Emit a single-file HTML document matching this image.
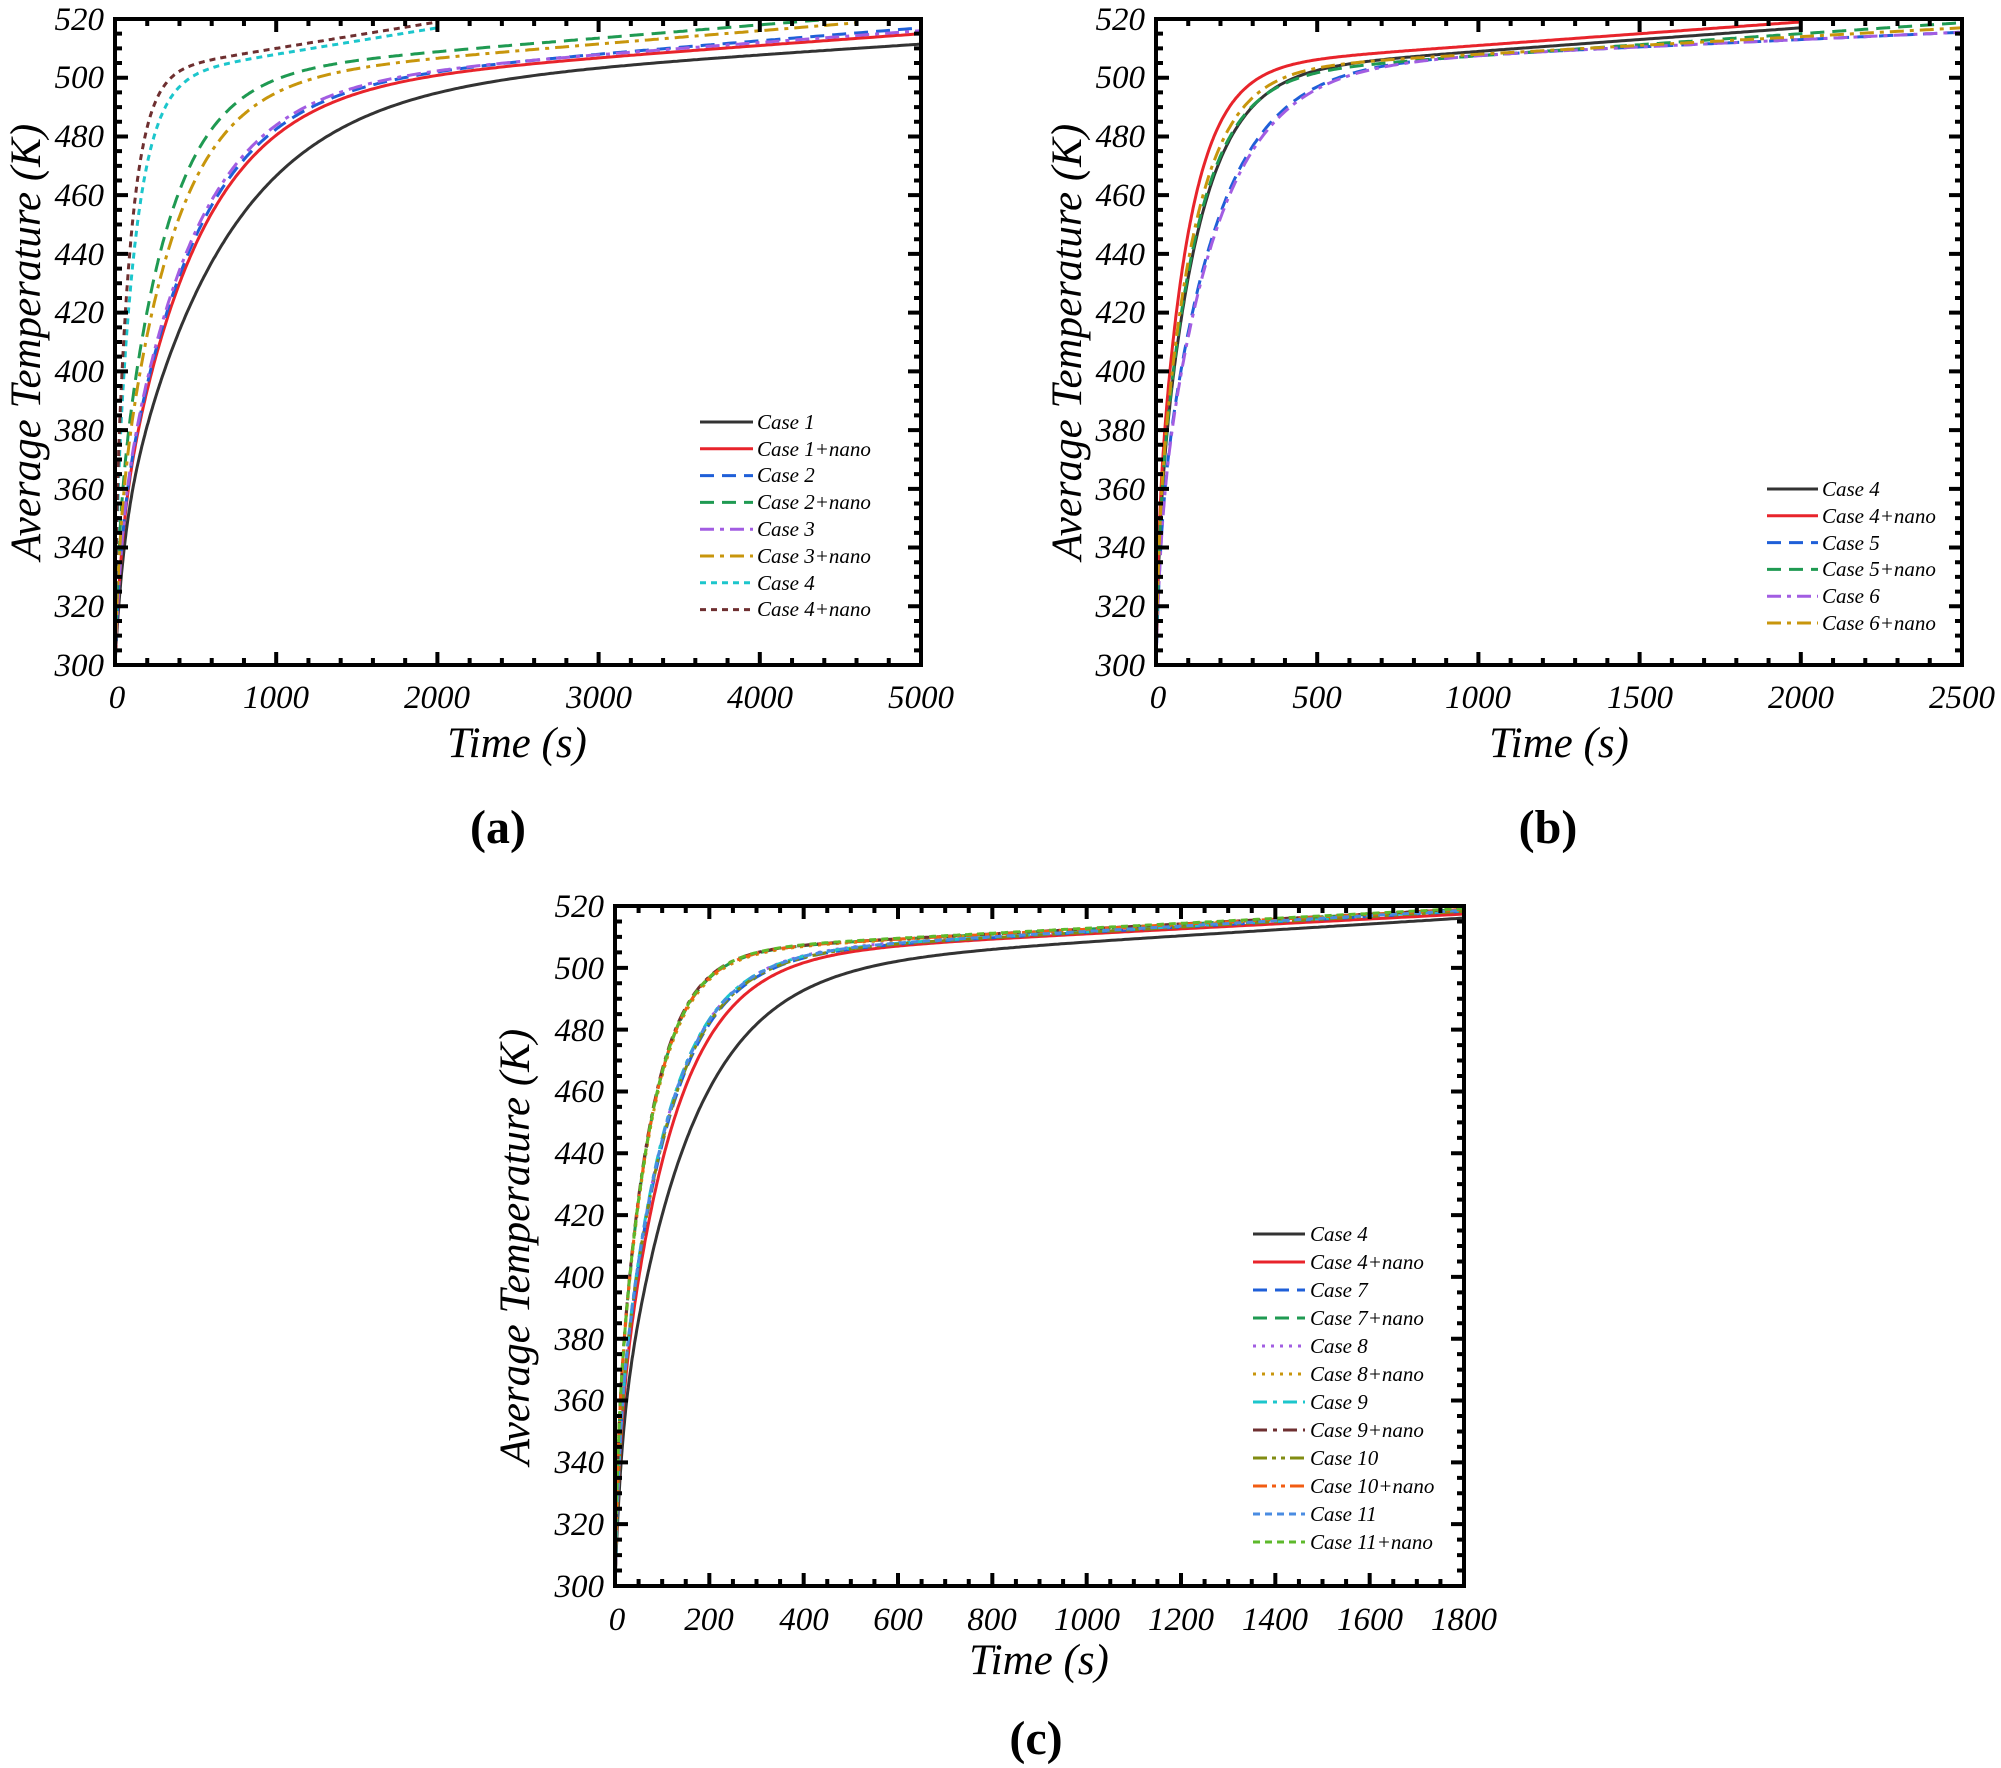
<!DOCTYPE html>
<html><head><meta charset="utf-8">
<style>
html,body{margin:0;padding:0;background:#fff;}
svg{display:block;}
text{font-family:"Liberation Serif",serif;font-style:italic;fill:#000;}
.tk text{font-size:33px;}
.ax text{font-size:43px;}
.lg text{font-size:21px;}
.pl text{font-size:48px;font-style:normal;font-weight:bold;}
</style></head>
<body>
<svg id="s" width="2001" height="1768" viewBox="0 0 2001 1768" xmlns="http://www.w3.org/2000/svg">
<defs>
<clipPath id="ca"><rect x="115" y="19" width="806" height="646"/></clipPath>
<clipPath id="cb"><rect x="1156" y="19" width="806" height="646"/></clipPath>
<clipPath id="cc"><rect x="615" y="906" width="849" height="680"/></clipPath>
</defs>
<g id="curves"></g>
<g id="axes"></g>
<g class="tk" text-anchor="end">
<text x="104" y="676">300</text><text x="104" y="617">320</text><text x="104" y="558">340</text><text x="104" y="500">360</text><text x="104" y="441">380</text><text x="104" y="382">400</text><text x="104" y="323">420</text><text x="104" y="265">440</text><text x="104" y="206">460</text><text x="104" y="147">480</text><text x="104" y="88">500</text><text x="104" y="30">520</text>
<text x="1145" y="676">300</text><text x="1145" y="617">320</text><text x="1145" y="558">340</text><text x="1145" y="500">360</text><text x="1145" y="441">380</text><text x="1145" y="382">400</text><text x="1145" y="323">420</text><text x="1145" y="265">440</text><text x="1145" y="206">460</text><text x="1145" y="147">480</text><text x="1145" y="88">500</text><text x="1145" y="30">520</text>
<text x="604" y="1597">300</text><text x="604" y="1535">320</text><text x="604" y="1473">340</text><text x="604" y="1411">360</text><text x="604" y="1350">380</text><text x="604" y="1288">400</text><text x="604" y="1226">420</text><text x="604" y="1164">440</text><text x="604" y="1102">460</text><text x="604" y="1041">480</text><text x="604" y="979">500</text><text x="604" y="917">520</text>
</g>
<g class="tk" text-anchor="middle">
<text x="117" y="708">0</text><text x="276" y="708">1000</text><text x="437" y="708">2000</text><text x="599" y="708">3000</text><text x="760" y="708">4000</text><text x="921" y="708">5000</text>
<text x="1158" y="708">0</text><text x="1317" y="708">500</text><text x="1478" y="708">1000</text><text x="1640" y="708">1500</text><text x="1801" y="708">2000</text><text x="1962" y="708">2500</text>
<text x="617" y="1630">0</text><text x="709" y="1630">200</text><text x="804" y="1630">400</text><text x="898" y="1630">600</text><text x="992" y="1630">800</text><text x="1087" y="1630">1000</text><text x="1181" y="1630">1200</text><text x="1275" y="1630">1400</text><text x="1370" y="1630">1600</text><text x="1464" y="1630">1800</text>
</g>
<g class="ax" text-anchor="middle">
<text x="517" y="757">Time (s)</text>
<text x="1559" y="757">Time (s)</text>
<text x="1039" y="1674">Time (s)</text>
<text transform="translate(40,342) rotate(-90)">Average Temperature (K)</text>
<text transform="translate(1081,342) rotate(-90)">Average Temperature (K)</text>
<text transform="translate(529,1247) rotate(-90)">Average Temperature (K)</text>
</g>
<g class="pl" text-anchor="middle">
<text x="498" y="843">(a)</text><text x="1548" y="843">(b)</text><text x="1036" y="1754">(c)</text>
</g>
<g class="lg">
<text x="757" y="429">Case 1</text><text x="757" y="456">Case 1+nano</text><text x="757" y="482">Case 2</text><text x="757" y="509">Case 2+nano</text><text x="757" y="536">Case 3</text><text x="757" y="563">Case 3+nano</text><text x="757" y="590">Case 4</text><text x="757" y="616">Case 4+nano</text>
<text x="1822" y="496">Case 4</text><text x="1822" y="523">Case 4+nano</text><text x="1822" y="550">Case 5</text><text x="1822" y="576">Case 5+nano</text><text x="1822" y="603">Case 6</text><text x="1822" y="630">Case 6+nano</text>
<text x="1310" y="1241">Case 4</text><text x="1310" y="1269">Case 4+nano</text><text x="1310" y="1297">Case 7</text><text x="1310" y="1325">Case 7+nano</text><text x="1310" y="1353">Case 8</text><text x="1310" y="1381">Case 8+nano</text><text x="1310" y="1409">Case 9</text><text x="1310" y="1437">Case 9+nano</text><text x="1310" y="1465">Case 10</text><text x="1310" y="1493">Case 10+nano</text><text x="1310" y="1521">Case 11</text><text x="1310" y="1549">Case 11+nano</text>
</g>
</svg>
<script>
var NS="http://www.w3.org/2000/svg";
var cg=document.getElementById('curves'), ag=document.getElementById('axes');
function el(tag,attrs,parent){var e=document.createElementNS(NS,tag);for(var k in attrs)e.setAttribute(k,attrs[k]);parent.appendChild(e);return e;}
function T(t,p){var Tk=p[0],b=p[1],tau=p[2],cf=0.2;var c=cf*(Tk-300),a=Tk-300-c;
 return 300+c*(1-Math.exp(-t/(tau/12)))+a*(1-Math.exp(-t/tau))+b*t;}
var S={solid:"",dash:"14,8",dashdot:"14,6,4,6",dot:"6,5",sdash:"7,5",dd:"14,5,4,5,4,5",ddot:"3,6"};
var C={k:"#333",r:"#e8242b",b:"#1f5fd8",g:"#1f9a52",p:"#a25de2",y:"#c8960c",c:"#1cc6cc",br:"#6e2f30",ol:"#818c12",o:"#f25c12",lb:"#4a8ce2",li:"#5db92b"};
var panels=[
 {x0:115,x1:921,y0:19,y1:665,xm:5000,clip:"ca",xmaj:1000,xmin:200,
  leg:{x0:700,x1:753,y:422,dy:26.8},
  s:[[C.k,"solid",[494,.0035,620],5000],[C.r,"solid",[495,.004,470],5000],[C.b,"dash",[495,.0044,450],5000],[C.g,"dash",[500,.0045,290],4400],[C.p,"dashdot",[496,.004,440],5000],[C.y,"dashdot",[498,.0045,330],4600],[C.c,"dot",[499,.009,120],2000],[C.br,"dot",[501,.009,95],2000]]},
 {x0:1156,x1:1962,y0:19,y1:665,xm:2500,clip:"cb",xmaj:500,xmin:100,
  leg:{x0:1767,x1:1818,y:489,dy:26.8},
  s:[[C.k,"solid",[501,.008,120],2000],[C.r,"solid",[503,.008,95],2000],[C.b,"dash",[503,.005,170],2500],[C.g,"dash",[500,.0075,115],2500],[C.p,"dashdot",[503,.005,175],2500],[C.y,"dashdot",[502,.006,110],2500]]},
 {x0:615,x1:1464,y0:906,y1:1586,xm:1800,clip:"cc",xmaj:200,xmin:50,
  leg:{x0:1253,x1:1305,y:1234,dy:28},
  s:[[C.k,"solid",[499,.0095,145],1800],[C.r,"solid",[503,.008,112],1800],[C.b,"dash",[503,.0085,102],1800],[C.g,"dash",[504.5,.008,70],1800],[C.p,"ddot",[503.5,.0085,100],1800],[C.y,"ddot",[504.3,.008,71],1800],[C.c,"dashdot",[503.2,.0085,99],1800],[C.br,"dashdot",[504.6,.008,69],1800],[C.ol,"dd",[503,.0085,101],1800],[C.o,"dd",[504.5,.008,70],1800],[C.lb,"sdash",[503.3,.0085,100],1800],[C.li,"sdash",[504.8,.008,70],1800]]}
];
panels.forEach(function(P){
 var sx=function(t){return P.x0+(P.x1-P.x0)*t/P.xm;};
 var sy=function(v){return P.y1-(P.y1-P.y0)*(v-300)/220;};
 var g=el('g',{'clip-path':'url(#'+P.clip+')'},cg);
 P.s.forEach(function(s,i){
  var pts=[],N=400;
  for(var k=0;k<=N;k++){var t=s[3]*Math.pow(k/N,2);pts.push(sx(t).toFixed(1)+","+sy(T(t,s[2])).toFixed(1));}
  var a={points:pts.join(" "),fill:"none",stroke:s[0],'stroke-width':3};
  if(S[s[1]])a['stroke-dasharray']=S[s[1]];
  el('polyline',a,g);
  var ly=P.leg.y+i*P.leg.dy;
  var b={x1:P.leg.x0,x2:P.leg.x1,y1:ly,y2:ly,stroke:s[0],'stroke-width':3};
  if(S[s[1]])b['stroke-dasharray']=S[s[1]];
  el('line',b,ag);
 });
 el('rect',{x:P.x0,y:P.y0,width:P.x1-P.x0,height:P.y1-P.y0,fill:"none",stroke:"#000","stroke-width":4},ag);
 var d="";
 for(var t=0;t<=P.xm+1e-6;t+=P.xmin){var x=sx(t),L=(Math.abs(t/P.xmaj-Math.round(t/P.xmaj))<1e-6)?13:7;
  d+="M"+x+","+P.y1+"v"+(-L)+"M"+x+","+P.y0+"v"+L;}
 for(var v=300;v<=520;v+=5){var y=sy(v),L=(v%20==0)?13:7;
  d+="M"+P.x0+","+y+"h"+L+"M"+P.x1+","+y+"h"+(-L);}
 el('path',{d:d,stroke:"#000","stroke-width":4,fill:"none"},ag);
});
</script>
</body></html>
